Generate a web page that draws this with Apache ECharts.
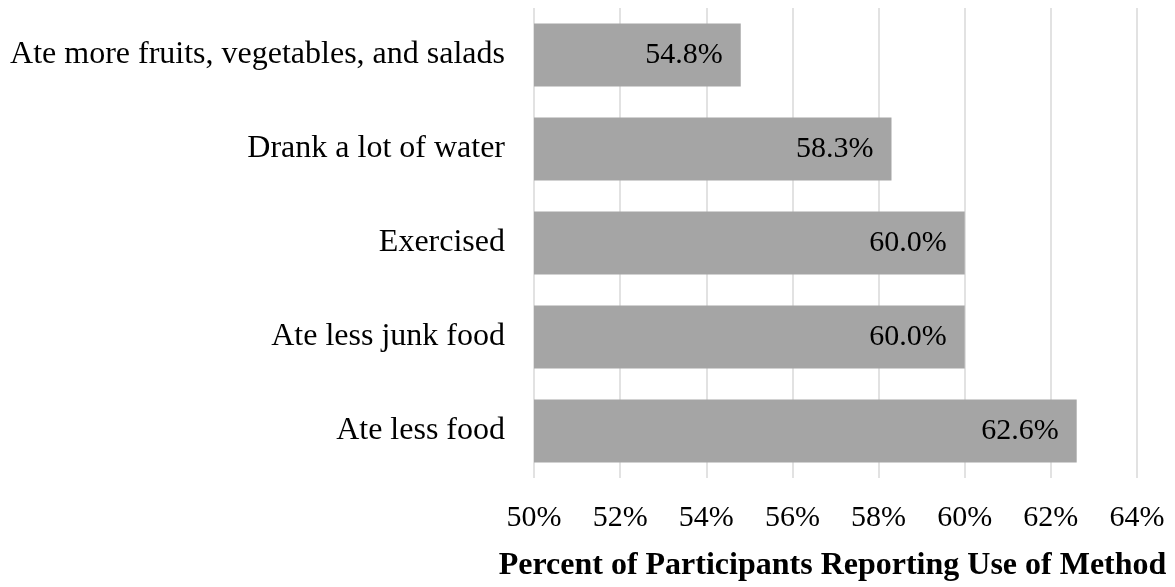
<!DOCTYPE html>
<html>
<head>
<meta charset="utf-8">
<title>Weight-loss methods</title>
<script src="https://cdn.jsdelivr.net/npm/echarts@6/dist/echarts.min.js"></script>
<style>
  html, body { margin: 0; padding: 0; background: #ffffff; }
  #chart { width: 1175px; height: 587px; }
</style>
</head>
<body>
<div id="chart"></div>
<script>
// Methods, listed top to bottom
const methods = [
  'Ate more fruits, vegetables, and salads',
  'Drank a lot of water',
  'Exercised',
  'Ate less junk food',
  'Ate less food'
];
// Percent of participants reporting each method
const percents = [54.8, 58.3, 60.0, 60.0, 62.6];
// Value axis range and step (percent)
const axisMin = 50;
const axisMax = 64;
const axisStep = 2;
const axisTitle = 'Percent of Participants Reporting Use of Method';

const serif = '"Liberation Serif", "Times New Roman", "DejaVu Serif", serif';

const chart = echarts.init(document.getElementById('chart'), null, { renderer: 'canvas' });
chart.setOption({
  animation: false,
  backgroundColor: '#ffffff',
  textStyle: { fontFamily: serif },
  grid: { left: 534, right: 38, top: 8, bottom: 107, containLabel: false },
  xAxis: {
    type: 'value',
    min: axisMin,
    max: axisMax,
    interval: axisStep,
    axisLine: { show: false },
    axisTick: { show: false },
    splitLine: { show: true, lineStyle: { color: '#d9d9d9', width: 1.5 } },
    axisLabel: {
      margin: 25,
      fontSize: 30,
      color: '#000000',
      fontFamily: serif,
      formatter: v => v + '%'
    },
    name: axisTitle,
    nameLocation: 'middle',
    nameGap: 72,
    nameTextStyle: {
      fontSize: 32,
      fontWeight: 'bold',
      color: '#000000',
      fontFamily: serif,
      padding: [0, 6, 0, 0]
    }
  },
  yAxis: {
    type: 'category',
    data: methods,
    inverse: true,
    axisLine: { show: false },
    axisTick: { show: false },
    splitLine: { show: false },
    axisLabel: {
      margin: 29,
      fontSize: 32,
      color: '#000000',
      fontFamily: serif
    }
  },
  series: [{
    type: 'bar',
    data: percents,
    barCategoryGap: '33%',
    itemStyle: { color: '#a5a5a5' },
    label: {
      show: true,
      position: 'insideRight',
      distance: 18,
      fontSize: 30,
      color: '#000000',
      fontFamily: serif,
      formatter: p => p.value.toFixed(1) + '%'
    }
  }]
});
</script>
</body>
</html>
